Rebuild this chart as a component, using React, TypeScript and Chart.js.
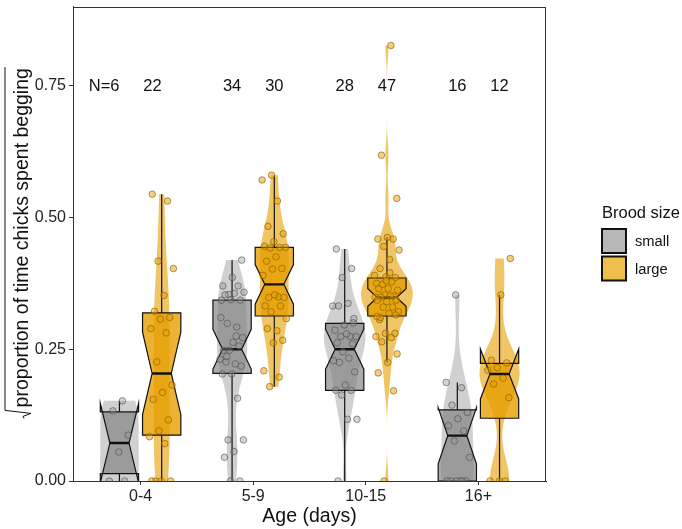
import React, { useEffect, useRef } from 'react';
import { Chart, registerables } from 'chart.js';

Chart.register(...registerables);

// ---- data ----
const categories = ['0-4', '5-9', '10-15', '16+'];
const sizeNames = ['small', 'large'];
const yTicks = [0, 0.25, 0.5, 0.75];

// sqrt(proportion of time spent begging), one array per age class
const smallValues: number[][] = [
  [0.152, 0.133, 0.087, 0.055, 0, 0],
  [0.419, 0.386, 0.37, 0.37, 0.354, 0.358, 0.356, 0.353, 0.343, 0.344, 0.343, 0.292, 0.299, 0.272, 0.263, 0.248, 0.256,
    0.248, 0.231, 0.222, 0.226, 0.218, 0.203, 0.203, 0.157, 0.078, 0.078, 0.056, 0.045, 0, 0, 0.31, 0.275, 0.236],
  [0.44, 0.403, 0.386, 0.332, 0.337, 0.332, 0.308, 0.296, 0.286, 0.274, 0.274, 0.274, 0.279, 0.262, 0.26, 0.245, 0.228,
    0.233, 0.225, 0.207, 0.182, 0.172, 0.172, 0.163, 0.117, 0.117, 0, 0.3],
  [0.353, 0.187, 0.177, 0.144, 0.13, 0.118, 0.105, 0.095, 0.076, 0.045, 0, 0, 0, 0, 0, 0],
];
const largeValues: number[][] = [
  [0.544, 0.531, 0.417, 0.403, 0.352, 0.322, 0.31, 0.307, 0.289, 0.281, 0.226, 0.182, 0.168, 0.155, 0.116, 0.095, 0.084,
    0.071, 0, 0, 0, 0],
  [0.58, 0.571, 0.531, 0.483, 0.469, 0.454, 0.445, 0.443, 0.442, 0.443, 0.425, 0.417, 0.403, 0.402, 0.39, 0.349, 0.348,
    0.348, 0.353, 0.332, 0.332, 0.321, 0.308, 0.285, 0.289, 0.267, 0.262, 0.209, 0.197, 0.179],
  [0.826, 0.618, 0.536, 0.462, 0.459, 0.459, 0.445, 0.438, 0.42, 0.403, 0.386, 0.387, 0.375, 0.378, 0.373, 0.362, 0.365,
    0.365, 0.351, 0.353, 0.349, 0.351, 0.349, 0.343, 0.34, 0.343, 0.33, 0.33, 0.321, 0.318, 0.306, 0.28, 0.28, 0.274,
    0.272, 0.264, 0.241, 0.225, 0.205, 0.171, 0, 0.39, 0.395, 0.31, 0.315, 0.38, 0.312],
  [0.422, 0.353, 0.229, 0.224, 0.215, 0.21, 0.195, 0.184, 0.158, 0, 0, 0],
];

// box statistics per age class
const smallLow = [0, 0, 0, 0];
const smallQ1 = [0.014, 0.204, 0.172, 0];
const smallMedian = [0.072, 0.25, 0.25, 0.086];
const smallQ3 = [0.131, 0.343, 0.299, 0.135];
const smallHigh = [0.152, 0.419, 0.44, 0.187];

const largeLow = [0, 0.179, 0.225, 0];
const largeQ1 = [0.087, 0.313, 0.313, 0.119];
const largeMedian = [0.204, 0.373, 0.348, 0.203];
const largeQ3 = [0.319, 0.443, 0.385, 0.223];
const largeHigh = [0.544, 0.58, 0.462, 0.353];

// ---- style ----
const FONT = '"Liberation Sans", Arial, Helvetica, sans-serif';
const DODGE = 0.1875;
const BOX_W = 0.34;
const JITTER = 0.11;
const VIOLIN_MAX = 0.46;

const looks = [
  {
    violin: 'rgba(128,128,128,0.37)',
    box: 'rgba(128,128,128,0.66)',
    point: 'rgba(150,150,150,0.4)',
    pointBorder: 'rgba(70,70,70,0.7)',
    key: 'rgb(184,184,184)',
  },
  {
    violin: 'rgba(230,159,0,0.6)',
    box: 'rgba(230,159,0,0.8)',
    point: 'rgba(230,159,0,0.5)',
    pointBorder: 'rgba(130,88,0,0.75)',
    key: 'rgb(239,190,77)',
  },
];

type Stats = { low: number[]; q1: number[]; med: number[]; q3: number[]; high: number[] };
const stats: Stats[] = [
  { low: smallLow, q1: smallQ1, med: smallMedian, q3: smallQ3, high: smallHigh },
  { low: largeLow, q1: largeQ1, med: largeMedian, q3: largeQ3, high: largeHigh },
];
const values = [smallValues, largeValues];

// ---- helpers ----
function quantile(sorted: number[], p: number) {
  const h = (sorted.length - 1) * p;
  const lo = Math.floor(h);
  const hi = Math.ceil(h);
  return sorted[lo] + (h - lo) * (sorted[hi] - sorted[lo]);
}

function bwNrd0(v: number[]) {
  const n = v.length;
  const mean = v.reduce((a, b) => a + b, 0) / n;
  const sd = Math.sqrt(v.reduce((a, b) => a + (b - mean) ** 2, 0) / (n - 1));
  const s = [...v].sort((a, b) => a - b);
  const iqr = quantile(s, 0.75) - quantile(s, 0.25);
  let lo = Math.min(sd, iqr / 1.34);
  if (!(lo > 0)) lo = sd || 1;
  return 0.9 * lo * Math.pow(n, -0.2);
}

function kde(v: number[], m = 256) {
  const bw = bwNrd0(v);
  const lo = Math.min(...v);
  const hi = Math.max(...v);
  const out: { y: number; d: number }[] = [];
  const norm = 1 / (v.length * bw * Math.sqrt(2 * Math.PI));
  for (let k = 0; k < m; k++) {
    const y = lo + ((hi - lo) * k) / (m - 1);
    let s = 0;
    for (const x of v) {
      const z = (y - x) / bw;
      s += Math.exp(-0.5 * z * z);
    }
    out.push({ y, d: s * norm });
  }
  return out;
}

const densities = values.map((grp) => grp.map((v) => kde(v)));
const maxDensity = Math.max(...densities.flat().flatMap((c) => c.map((p) => p.d)));

function jitterAt(i: number, g: number, s: number) {
  const f = ((i + 1) * 0.6180339887 + g * 0.2718 + s * 0.5) % 1;
  return (f - 0.5) * 2 * JITTER;
}

const offsets = [-DODGE, DODGE];

function pointData(s: number) {
  return values[s].flatMap((arr, g) =>
    arr.map((v, i) => ({ x: g + 1 + offsets[s] + jitterAt(i, g, s), y: v }))
  );
}

const layersPlugin = {
  id: 'violinBoxLayers',
  beforeDatasetsDraw(chart: any) {
    const { ctx, chartArea, scales } = chart;
    const xs = scales.x;
    const ys = scales.y;
    ctx.save();
    ctx.beginPath();
    ctx.rect(chartArea.left, chartArea.top, chartArea.width, chartArea.height);
    ctx.clip();

    // violins
    for (let s = 0; s < 2; s++) {
      densities[s].forEach((curve, g) => {
        const cx = g + 1 + offsets[s];
        ctx.beginPath();
        curve.forEach((p, k) => {
          const hw = (p.d / maxDensity) * (VIOLIN_MAX / 2);
          const px = xs.getPixelForValue(cx - hw);
          const py = ys.getPixelForValue(p.y);
          if (k === 0) ctx.moveTo(px, py);
          else ctx.lineTo(px, py);
        });
        for (let k = curve.length - 1; k >= 0; k--) {
          const p = curve[k];
          const hw = (p.d / maxDensity) * (VIOLIN_MAX / 2);
          ctx.lineTo(xs.getPixelForValue(cx + hw), ys.getPixelForValue(p.y));
        }
        ctx.closePath();
        ctx.fillStyle = looks[s].violin;
        ctx.fill();
      });
    }

    // notched boxes
    for (let s = 0; s < 2; s++) {
      const st = stats[s];
      categories.forEach((_, g) => {
        const cx = g + 1 + offsets[s];
        const n = values[s][g].length;
        const iqr = st.q3[g] - st.q1[g];
        const nUp = st.med[g] + (1.58 * iqr) / Math.sqrt(n);
        const nLo = st.med[g] - (1.58 * iqr) / Math.sqrt(n);
        const xl = xs.getPixelForValue(cx - BOX_W / 2);
        const xr = xs.getPixelForValue(cx + BOX_W / 2);
        const xc = xs.getPixelForValue(cx);
        const inset = (xr - xl) * 0.25;
        const Y = (v: number) => ys.getPixelForValue(v);

        // whiskers
        ctx.strokeStyle = '#111';
        ctx.lineWidth = 1.2;
        ctx.beginPath();
        ctx.moveTo(xc, Y(st.q3[g]));
        ctx.lineTo(xc, Y(st.high[g]));
        ctx.moveTo(xc, Y(st.q1[g]));
        ctx.lineTo(xc, Y(st.low[g]));
        ctx.stroke();

        ctx.beginPath();
        ctx.moveTo(xl, Y(st.q3[g]));
        ctx.lineTo(xl, Y(nUp));
        ctx.lineTo(xl + inset, Y(st.med[g]));
        ctx.lineTo(xl, Y(nLo));
        ctx.lineTo(xl, Y(st.q1[g]));
        ctx.lineTo(xr, Y(st.q1[g]));
        ctx.lineTo(xr, Y(nLo));
        ctx.lineTo(xr - inset, Y(st.med[g]));
        ctx.lineTo(xr, Y(nUp));
        ctx.lineTo(xr, Y(st.q3[g]));
        ctx.closePath();
        ctx.fillStyle = looks[s].box;
        ctx.fill();
        ctx.lineJoin = 'miter';
        ctx.stroke();

        ctx.beginPath();
        ctx.lineWidth = 2.4;
        ctx.moveTo(xl + inset, Y(st.med[g]));
        ctx.lineTo(xr - inset, Y(st.med[g]));
        ctx.stroke();
      });
    }
    ctx.restore();
  },
  afterDraw(chart: any) {
    const { ctx, chartArea, scales } = chart;
    const xs = scales.x;
    const ys = scales.y;
    ctx.save();

    // panel frame
    ctx.strokeStyle = '#333';
    ctx.lineWidth = 1;
    ctx.strokeRect(
      Math.round(chartArea.left) + 0.5,
      Math.round(chartArea.top) + 0.5,
      Math.round(chartArea.width) - 1,
      Math.round(chartArea.height) - 1
    );

    // sample sizes
    ctx.fillStyle = '#111';
    ctx.font = `16.5px ${FONT}`;
    ctx.textBaseline = 'middle';
    const ly = ys.getPixelForValue(0.75) + 1;
    for (let s = 0; s < 2; s++) {
      values[s].forEach((arr, g) => {
        const txt = g === 0 && s === 0 ? `N=${arr.length}` : String(arr.length);
        ctx.textAlign = g === 0 ? 'right' : 'center';
        ctx.fillText(txt, xs.getPixelForValue(g + 1 + offsets[s]), ly);
      });
    }

    // x title
    ctx.textAlign = 'center';
    ctx.font = `19.5px ${FONT}`;
    ctx.fillText('Age (days)', (chartArea.left + chartArea.right) / 2, 517);

    // y title with radical sign
    const label = 'proportion of time chicks spent begging';
    const tw = ctx.measureText(label).width;
    const radW = 12;
    const total = radW + tw;
    const cy = (chartArea.top + chartArea.bottom) / 2;
    ctx.save();
    ctx.translate(28, cy);
    ctx.rotate(-Math.PI / 2);
    const x0 = -total / 2;
    ctx.textAlign = 'left';
    ctx.textBaseline = 'alphabetic';
    ctx.fillText(label, x0 + radW, 0);
    const h = 23;
    ctx.beginPath();
    ctx.moveTo(x0 + radW + tw + 1, -h);
    ctx.lineTo(x0 + radW - 3, -h);
    ctx.lineTo(x0 + 6, 3);
    ctx.lineTo(x0 + 3, -5);
    ctx.lineTo(x0 + 1, -4);
    ctx.strokeStyle = '#111';
    ctx.lineWidth = 1;
    ctx.stroke();
    ctx.restore();

    // legend
    const lx = chartArea.right + 56;
    ctx.textAlign = 'left';
    ctx.textBaseline = 'middle';
    ctx.font = `16.5px ${FONT}`;
    ctx.fillStyle = '#111';
    ctx.fillText('Brood size', lx, 213);
    sizeNames.forEach((name, s) => {
      const ky = 229 + s * 27.5;
      ctx.fillStyle = looks[s].key;
      ctx.fillRect(lx, ky, 24, 24);
      ctx.strokeStyle = '#111';
      ctx.lineWidth = 2;
      ctx.strokeRect(lx, ky, 24, 24);
      ctx.fillStyle = '#111';
      ctx.font = `14.7px ${FONT}`;
      ctx.fillText(name, lx + 33, ky + 13);
    });
    ctx.restore();
  },
};

export default function App() {
  const ref = useRef<HTMLCanvasElement | null>(null);

  useEffect(() => {
    if (!ref.current) return;
    const tickFont = { family: FONT, size: 16 };
    const chart = new Chart(ref.current, {
      type: 'scatter',
      data: {
        datasets: [0, 1].map((s) => ({
          label: sizeNames[s],
          data: pointData(s),
          pointRadius: 3.3,
          pointHoverRadius: 3.3,
          pointBackgroundColor: looks[s].point,
          pointBorderColor: looks[s].pointBorder,
          pointBorderWidth: 0.8,
        })),
      },
      options: {
        animation: false,
        responsive: false,
        events: [],
        layout: { padding: { left: 0, top: 6.5, right: 136, bottom: 0 } },
        plugins: { legend: { display: false }, tooltip: { enabled: false } },
        scales: {
          x: {
            type: 'linear',
            min: 0.4,
            max: 4.6,
            afterBuildTicks: (s: any) => {
              s.ticks = categories.map((_, i) => ({ value: i + 1 }));
            },
            afterFit: (s: any) => {
              s.height = 48;
              s.paddingLeft = 0;
              s.paddingRight = 0;
            },
            ticks: {
              callback: (v: any) => categories[Math.round(Number(v)) - 1] ?? '',
              font: tickFont,
              color: '#222',
              padding: 2,
              maxRotation: 0,
              autoSkip: false,
            },
            grid: { drawOnChartArea: false, drawTicks: true, tickLength: 4, color: '#333' },
            border: { display: true, color: '#333', width: 1 },
          },
          y: {
            type: 'linear',
            min: 0,
            max: 0.9,
            afterBuildTicks: (s: any) => {
              s.ticks = yTicks.map((v) => ({ value: v }));
            },
            afterFit: (s: any) => {
              s.width = 73;
              s.paddingTop = 0;
              s.paddingBottom = 0;
            },
            ticks: {
              callback: (v: any) => Number(v).toFixed(2),
              font: tickFont,
              color: '#222',
              padding: 3,
            },
            grid: { drawOnChartArea: false, drawTicks: true, tickLength: 4, color: '#333' },
            border: { display: true, color: '#333', width: 1 },
          },
        },
      },
      plugins: [layersPlugin],
    } as any);
    return () => chart.destroy();
  }, []);

  return (
    <div style={{ position: 'absolute', left: 0, top: 0, width: 682, height: 529, background: '#fff' }}>
      <canvas ref={ref} width={682} height={529} style={{ display: 'block', width: 682, height: 529 }} />
    </div>
  );
}
